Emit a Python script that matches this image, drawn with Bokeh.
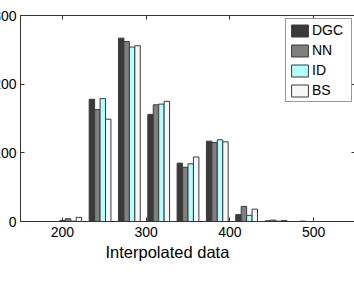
from bokeh.plotting import figure
from bokeh.models import LinearAxis, FixedTicker, Range1d, Title
from bokeh.embed import file_html
from bokeh.resources import INLINE

# ---- data ----
bin_centers = [175, 210, 245, 280, 315, 350, 385, 420, 455, 490, 525]
dgc = [0, 1.5, 178, 267, 156, 85, 117, 10, 1, 0, 0]
nn = [0, 4, 163, 262, 170, 79, 115, 22, 2, 0.5, 0]
idv = [0, 0.5, 179, 254, 171, 84, 119, 9, 0.5, 0, 0]
bs = [0, 6, 149, 256, 175, 94, 116, 18, 1.5, 0, 0]
series_names = ["DGC", "NN", "ID", "BS"]
series_values = [dgc, nn, idv, bs]
series_colors = ["#3a3a3a", "#7f7f7f", "#b3ffff", "#f7f7f7"]
x_ticks = [200, 300, 400, 500]
y_ticks = [0, 100, 200, 300]
x_label = "Interpolated data"

FONT = "Liberation Sans"

p = figure(width=395, height=298,
           x_range=Range1d(150, 550), y_range=Range1d(0, 300),
           output_backend="svg", toolbar_location=None,
           min_border_left=60, min_border_right=0,
           min_border_top=15, min_border_bottom=77)
p.styles = {"margin-left": "-40px"}

bar_w = 6.5
n = len(series_names)
for i, (name, vals, col) in enumerate(zip(series_names, series_values, series_colors)):
    off = (i - (n - 1) / 2) * bar_w
    xs = [c + off for c in bin_centers]
    p.vbar(x=xs, top=vals, bottom=0, width=bar_w, fill_color=col,
           line_color="#3a3a3a", line_width=1, legend_label=name)

p.xgrid.visible = False
p.ygrid.visible = False
p.outline_line_color = "#333333"
p.outline_line_width = 1
p.background_fill_color = "white"
p.border_fill_color = "white"

for ax in p.xaxis:
    ax.ticker = FixedTicker(ticks=x_ticks)
for ax in p.yaxis:
    ax.ticker = FixedTicker(ticks=y_ticks)

for ax in list(p.xaxis) + list(p.yaxis):
    ax.major_tick_in = 4
    ax.major_tick_out = 0
    ax.minor_tick_in = 0
    ax.minor_tick_out = 0
    ax.axis_line_color = "#333333"
    ax.major_tick_line_color = "#333333"
    ax.major_label_text_font = FONT
    ax.major_label_text_font_size = "14px"
    ax.major_label_text_color = "black"

p.xaxis.major_label_standoff = 5
p.yaxis.major_label_standoff = 4

# x label as a title below the axis (shifted left, as in the reference)
xt = Title(text=x_label, align="left", offset=85, standoff=2,
           text_font=FONT, text_font_size="16.5px", text_font_style="normal",
           text_color="black")
p.add_layout(xt, "below")

# box ticks on top and right (MATLAB style), no labels
top_ax = LinearAxis(ticker=FixedTicker(ticks=x_ticks))
right_ax = LinearAxis(ticker=FixedTicker(ticks=y_ticks))
top_ax.major_label_overrides = {t: "" for t in x_ticks}
right_ax.major_label_overrides = {t: "" for t in y_ticks}
for ax in (top_ax, right_ax):
    ax.major_tick_in = 4
    ax.major_tick_out = 0
    ax.minor_tick_in = 0
    ax.minor_tick_out = 0
    ax.major_label_standoff = 0
    ax.axis_line_color = None
    ax.major_tick_line_color = "#333333"
p.add_layout(top_ax, "above")
p.add_layout(right_ax, "right")

lg = p.legend[0]
lg.location = "top_right"
lg.margin = 3
lg.padding = 3
lg.spacing = 4
lg.glyph_width = 21
lg.glyph_height = 15
lg.label_height = 15
lg.label_width = 36
lg.label_standoff = 2
lg.label_text_font = FONT
lg.label_text_font_size = "14px"
lg.label_text_color = "black"
lg.border_line_color = "#333333"
lg.border_line_width = 1
lg.background_fill_color = "white"
lg.background_fill_alpha = 1

open("out.html", "w").write(file_html(p, INLINE))
